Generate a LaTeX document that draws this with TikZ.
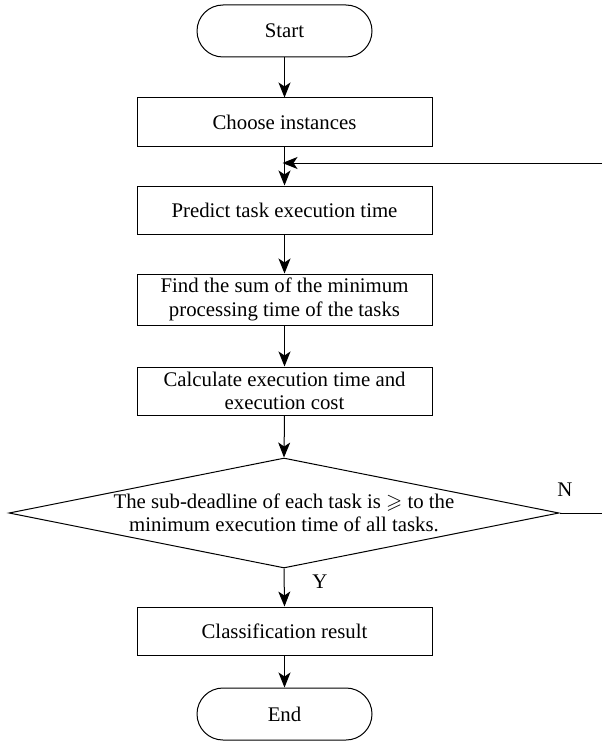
\documentclass[tikz,border=0pt]{standalone}
\usepackage{fontspec}
\setmainfont{Liberation Serif}
\usepackage{amssymb}
\usetikzlibrary{shapes.geometric,shapes.misc,arrows.meta}
\begin{document}
\begin{tikzpicture}[x=1pt,y=1pt,
  every node/.style={font=\fontsize{20.8}{23.5}\selectfont},
  term/.style={draw, line width=1pt, rounded rectangle, minimum width=175pt, minimum height=52pt, inner sep=0pt},
  proc/.style={draw, line width=1pt, rectangle, minimum width=295pt, minimum height=48pt, inner sep=0pt, align=center},
  dec/.style={draw, line width=1pt, diamond, aspect=5, minimum width=550pt, minimum height=110pt, inner sep=0pt, align=center},
  flow/.style={draw, line width=1pt, -{Stealth[length=15pt,width=12pt,inset=4pt]}},
  plain/.style={draw, line width=1pt},
  lbl/.style={inner sep=0pt}
]
\useasboundingbox (0,0) rectangle (602,-741);
\node[term] (start) at (284.5,-31) {Start};
\node[proc] (choose) at (284.5,-122) {Choose instances};
\node[proc] (predict) at (284.5,-210) {Predict task execution time};
\node[proc, minimum height=51pt] (find) at (284.5,-299.5) {Find the sum of the minimum\\processing time of the tasks};
\node[proc] (calc) at (284.5,-391) {Calculate execution time and\\execution cost};
\node[dec] (dia) at (284,-513) {The sub-deadline of each task is $\geqslant$ to the\\minimum execution time of all tasks.};
\node[proc] (cls) at (284.5,-631) {Classification result};
\node[term] (end) at (284.5,-714) {End};
\coordinate (j) at (284.5,-163);
\coordinate (fbr) at (602,-163);
\coordinate (nr) at (602,-513);
\node[lbl] (nlab) at (565,-490) {N};
\node[lbl] (ylab) at (320,-582) {Y};
\draw[flow] (start.south) -- (choose.north);
\draw[flow] (choose.south) -- (predict.north);
\draw[flow, shorten >=-2pt] (fbr) -- (j);
\draw[flow] (predict.south) -- (find.north);
\draw[flow] (find.south) -- (calc.north);
\draw[flow] (calc.south) -- (dia.north);
\draw[flow] (dia.south) -- (cls.north);
\draw[flow] (cls.south) -- (end.north);
\draw[plain] (dia.east) -- (nr);
\end{tikzpicture}
\end{document}
